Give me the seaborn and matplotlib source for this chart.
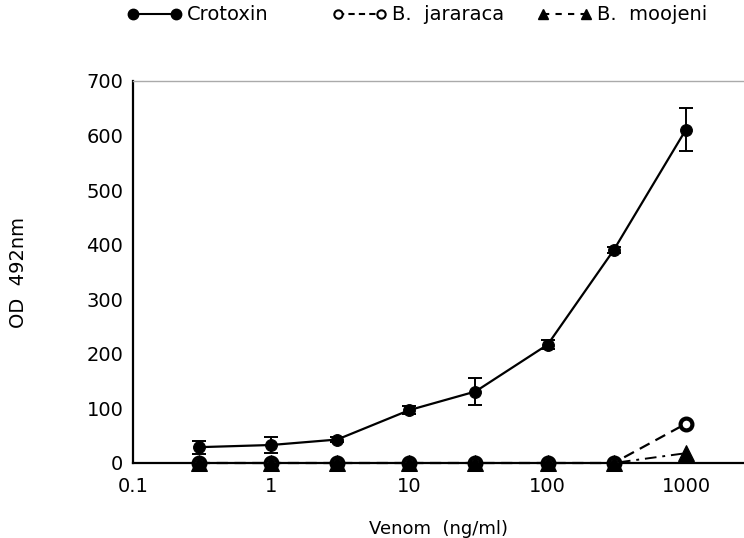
import numpy as np
import pandas as pd
import matplotlib
matplotlib.use("Agg")
import matplotlib.pyplot as plt
from matplotlib.lines import Line2D
import seaborn as sns

# ---- data ----
venom = [0.3, 1, 3, 10, 30, 100, 300, 1000]
crotoxin = [29, 33, 43, 97, 131, 217, 390, 611]
crotoxin_err = [12, 14, 5, 8, 25, 8, 6, 40]
jararaca = [0, 0, 0, 0, 0, 0, 0, 72]
jararaca_err = [0, 0, 0, 0, 0, 0, 0, 5]
moojeni = [0, 0, 0, 0, 0, 0, 0, 18]
moojeni_err = [0, 0, 0, 0, 0, 0, 0, 4]
y_ticks = [0, 100, 200, 300, 400, 500, 600, 700]
x_ticks = [0.1, 1, 10, 100, 1000]
x_ticklabels = ["0.1", "1", "10", "100", "1000"]
series_labels = ["Crotoxin", "B.  jararaca", "B.  moojeni"]

sns.set_style("white")
plt.rcParams['font.family'] = ['DejaVu Sans']
plt.rcParams['text.color'] = 'black'
plt.rcParams['axes.labelcolor'] = 'black'

W, H = 744, 538
fig = plt.figure(figsize=(W / 100, H / 100), dpi=100)
ax_left, ax_bottom, ax_top = 133, 463, 81
ax = fig.add_axes([ax_left / W, 1 - ax_bottom / H, 1 - ax_left / W,
                   (ax_bottom - ax_top) / H])

df = pd.DataFrame({"venom": venom, "crotoxin": crotoxin, "jararaca": jararaca,
                   "moojeni": moojeni})

ax.errorbar(venom, crotoxin, yerr=crotoxin_err, fmt='none', ecolor='black',
            elinewidth=1.4, capsize=5, capthick=1.4, zorder=2, clip_on=False)
ax.errorbar(venom, jararaca, yerr=jararaca_err, fmt='none', ecolor='black',
            elinewidth=1.4, capsize=3, capthick=1.4, zorder=2, clip_on=False)

sns.lineplot(data=df, x="venom", y="crotoxin", ax=ax, color="black", lw=1.6,
             marker="o", markersize=8.5, markeredgecolor="black",
             markerfacecolor="black", zorder=3, clip_on=False)
sns.lineplot(data=df, x="venom", y="jararaca", ax=ax, color="black", lw=1.6,
             marker="o", markersize=8.5, markeredgecolor="black",
             markeredgewidth=3.0, markerfacecolor="white",
             zorder=4, clip_on=False)
ax.lines[-1].set_dashes([5, 3])
sns.lineplot(data=df, x="venom", y="moojeni", ax=ax, color="black", lw=1.4,
             marker="^", markersize=11, markeredgecolor="black",
             markerfacecolor="black", zorder=10, clip_on=False)
ax.lines[-1].set_dashes([6, 3, 1.5, 3])

ax.set_xscale("log")
ax.set_xlim(0.1, 2630)
ax.set_ylim(0, 700)
ax.set_xticks(x_ticks)
ax.set_xticklabels(x_ticklabels)
ax.xaxis.set_minor_locator(matplotlib.ticker.NullLocator())
ax.set_yticks(y_ticks)
ax.tick_params(axis="both", direction="in", length=5, width=1.2,
               labelsize=14, colors="black")
ax.tick_params(axis="x", pad=10)
ax.tick_params(axis="y", pad=7)

for s in ["left", "bottom"]:
    ax.spines[s].set_color("black")
    ax.spines[s].set_linewidth(1.6)
ax.spines["right"].set_visible(False)
ax.spines["top"].set_color("#aaaaaa")
ax.spines["top"].set_linewidth(1.0)

ax.set_xlabel("Venom  (ng/ml)", fontsize=13, color="black")
ax.xaxis.set_label_coords(0.5, -0.148)
ax.set_ylabel("OD  492nm", fontsize=14, color="black")
ax.yaxis.set_label_coords(-0.172, 0.5)

# legend: one entry per column, placed at the reference positions
styles = [
    dict(ls="-", marker="o", mfc="black", ms=7.5, mew=1.0),
    dict(ls=(0, (3, 2)), marker="o", mfc="white", ms=6, mew=1.5),
    dict(ls=(0, (3, 3)), marker="^", mfc="black", ms=7.5, mew=1.0),
]
starts = [127, 332, 537]
for lab, st, x0 in zip(series_labels, styles, starts):
    h = Line2D([], [], color="black", lw=1.5, mec="black", **st)
    leg = fig.legend([h], [lab], loc="center left",
                     bbox_to_anchor=(x0 / W, 1 - 15 / H), numpoints=2,
                     frameon=False, fontsize=14, handlelength=2.8,
                     handletextpad=0.3, borderpad=0, borderaxespad=0)
    for t in leg.get_texts():
        t.set_color("black")

fig.savefig("out.png", dpi=100)
